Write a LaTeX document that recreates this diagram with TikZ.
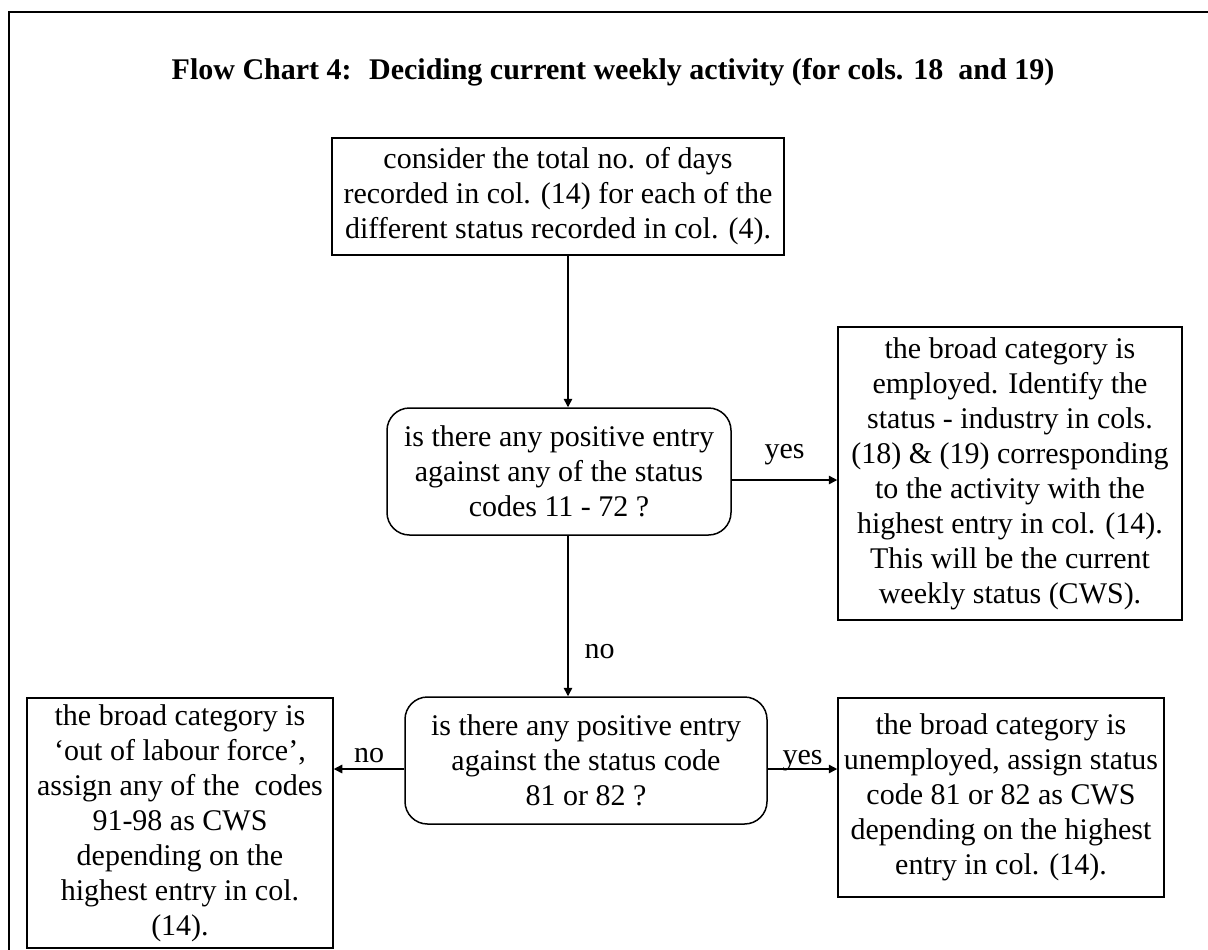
\documentclass[tikz,border=0pt]{standalone}
\usepackage{fontspec}
\setmainfont{Liberation Serif}
\usetikzlibrary{shapes, arrows.meta}
\usetikzlibrary{calc}

\begin{document}
\begin{tikzpicture}[x=0.4pt, y=-0.4pt, font=\fontsize{12}{14}\selectfont,
        box/.style={draw, line width=0.6pt, align=center, inner sep=0pt},
        decision/.style={box, rounded corners=9pt},
        arr/.style={-{Triangle[length=3.4pt, width=3.4pt]}, line width=0.6pt},
        lbl/.style={anchor=base, inner sep=0pt}]

        \useasboundingbox (0, 0) rectangle (1208, 949);
        \clip (0, 0) rectangle (1208, 949);
        \draw[line width=0.9pt] (9, 12) rectangle (1300, 1050);

        \node[anchor=base, font=\bfseries\fontsize{12}{14}\selectfont] (title) at (613, 79)
            {Flow Chart 4:~ Deciding current weekly activity (for cols. 18~ and 19)};

        \node[box, minimum width=180.8pt, minimum height=46.8pt] (consider) at (558, 196.5)
            {consider the total no. of days\\ recorded in col. (14) for each of the\\ different status recorded in col. (4).};
        \node[decision, minimum width=137.6pt, minimum height=50.8pt] (anypos) at (559, 471.5)
            {is there any positive entry\\ against any of the status\\ codes 11 - 72 ?};
        \node[box, minimum width=137.6pt, minimum height=117.2pt] (employed) at (1010, 473.5)
            {the broad category is\\ employed. Identify the\\ status - industry in cols.\\ (18) \& (19) corresponding\\
             to the activity with the\\ highest entry in col. (14).\\ This will be the current\\ weekly status (CWS).};
        \node[decision, minimum width=144.8pt, minimum height=50.8pt] (unpos) at (586, 760.5)
            {is there any positive entry\\ against the status code\\ 81 or 82 ?};
        \node[box, minimum width=122.4pt, minimum height=100pt] (outlf) at (180, 823)
            {the broad category is\\ ‘out of labour force’,\\ assign any of the~ codes\\ 91-98 as CWS\\
             depending on the\\ highest entry in col.\\ (14).};
        \node[box, minimum width=130.4pt, minimum height=79.6pt] (unemployed) at (1001, 797.5)
            {the broad category is\\ unemployed, assign status\\ code 81 or 82 as CWS\\ depending on the highest\\ entry in col. (14).};

        \coordinate (spine) at (568, 0);
        \coordinate (upper) at (0, 480);
        \coordinate (lower) at (0, 769);

        \draw[arr] (spine |- consider.south) -- (spine |- anypos.north);
        \draw[arr] (upper -| anypos.east) -- (upper -| employed.west) node[lbl, midway, yshift=8.8pt] {yes};
        \draw[arr] (spine |- anypos.south) -- (spine |- unpos.north) node[pos=0.72, right=3pt] {no};
        \draw[arr] (lower -| unpos.west) -- (lower -| outlf.east) node[lbl, midway, yshift=2.8pt] {no};
        \draw[arr] (lower -| unpos.east) -- (lower -| unemployed.west) node[lbl, midway, yshift=2pt] {yes};

\end{tikzpicture}
\end{document}
